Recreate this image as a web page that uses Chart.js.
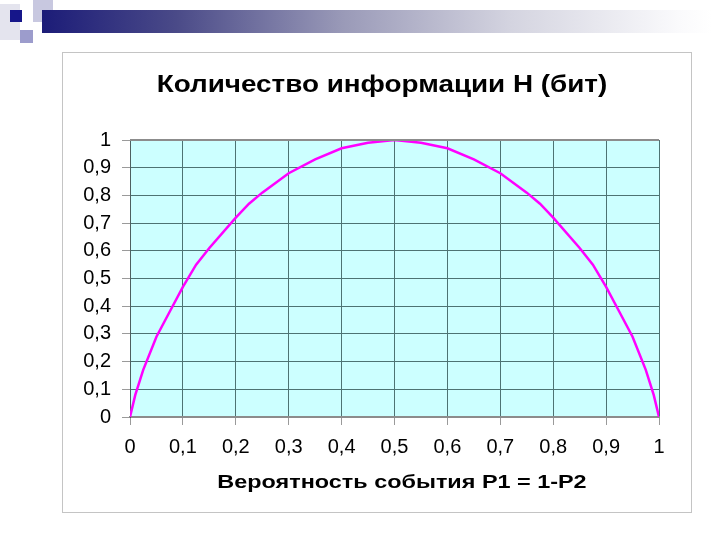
<!DOCTYPE html>
<html>
<head>
<meta charset="utf-8">
<script src="https://cdn.jsdelivr.net/npm/chart.js@4"></script>
<style>
  body { margin: 0; background: #fff; }
  .slide { position: relative; width: 720px; height: 540px; overflow: hidden; background: #fff;
    font-family: Arial, "Liberation Sans", sans-serif; }
  .bar { position: absolute; left: 42px; top: 10px; width: 670px; height: 23px;
    background: linear-gradient(to right, #1c1c78 0%, #4a4a88 20%, #9a9ab8 45%, #d4d4e0 70%, #fafafc 95%, #fff 100%); }
  .sq { position: absolute; }
  .panel { position: absolute; left: 62px; top: 52px; width: 628px; height: 459px; border: 1px solid #c4c4c4; }
  canvas { position: absolute; left: 0; top: 0; }
  .txt { position: absolute; white-space: nowrap; font-weight: bold; color: #000; transform-origin: center center; }
  #title { left: 382px; top: 84px; font-size: 23px; transform: translate(-50%, -50%) scaleX(1.21); }
  #xtitle { left: 402px; top: 482px; font-size: 18px; transform: translate(-50%, -50%) scaleX(1.3); }
</style>
</head>
<body>
<div class="slide">
  <div class="sq" style="left:0;top:4px;width:20px;height:36px;background:#e4e4ee"></div>
  <div class="sq" style="left:33px;top:0;width:20px;height:22px;background:#c8c8e0"></div>
  <div class="bar"></div>
  <div class="sq" style="left:10px;top:10px;width:12px;height:12px;background:#16168a"></div>
  <div class="sq" style="left:20px;top:30px;width:13px;height:13px;background:#9c9ccc"></div>
  <div class="panel"></div>
  <canvas id="chart" width="720" height="540"></canvas>
  <div class="txt" id="title">Количество информации Н (бит)</div>
  <div class="txt" id="xtitle">Вероятность события Р1 = 1-Р2</div>
</div>
<script>
// вероятность P1 и количество информации H (бит)
const probability = [0, 0.01, 0.025, 0.05, 0.075, 0.1, 0.125, 0.15, 0.2, 0.225, 0.25, 0.3, 0.35, 0.4, 0.45, 0.5,
  0.55, 0.6, 0.65, 0.7, 0.75, 0.775, 0.8, 0.85, 0.875, 0.9, 0.925, 0.95, 0.975, 0.99, 1];
const entropy = [0, 0.08, 0.17, 0.29, 0.38, 0.47, 0.55, 0.61, 0.72, 0.77, 0.81, 0.88, 0.93, 0.97, 0.99, 1,
  0.99, 0.97, 0.93, 0.88, 0.81, 0.77, 0.72, 0.61, 0.55, 0.47, 0.38, 0.29, 0.17, 0.08, 0];
const xTicks = [0, 0.1, 0.2, 0.3, 0.4, 0.5, 0.6, 0.7, 0.8, 0.9, 1];
const yTicks = [0, 0.1, 0.2, 0.3, 0.4, 0.5, 0.6, 0.7, 0.8, 0.9, 1];

const fontFamily = 'Arial, "Liberation Sans", sans-serif';

function formatTick(v) {
  if (v === 0 || v === 1) return String(v);
  return v.toFixed(1).replace(".", ",");
}

const plotArea = {
  id: "plotArea",
  beforeDraw(chart) {
    const { ctx, chartArea: a } = chart;
    ctx.save();
    ctx.fillStyle = "#ccffff";
    ctx.fillRect(a.left, a.top, a.right - a.left, a.bottom - a.top);
    ctx.restore();
  },
  afterDraw(chart) {
    const { ctx, chartArea: a } = chart;
    ctx.save();
    ctx.strokeStyle = "#8c8c8c";
    ctx.lineWidth = 2;
    ctx.beginPath();
    ctx.moveTo(a.left, a.top);
    ctx.lineTo(a.right, a.top);
    ctx.stroke();
    ctx.restore();
  },
};

new Chart(document.getElementById("chart").getContext("2d"), {
  type: "line",
  data: {
    datasets: [
      {
        data: probability.map((p, i) => ({ x: p, y: entropy[i] })),
        borderColor: "#ff00ff",
        borderWidth: 2.5,
        pointRadius: 0,
        tension: 0,
        fill: false,
      },
    ],
  },
  options: {
    responsive: false,
    animation: false,
    layout: { padding: { top: 140, left: 60, right: 61, bottom: 83 } },
    plugins: {
      legend: { display: false },
      tooltip: { enabled: false },
    },
    scales: {
      x: {
        type: "linear",
        min: 0,
        max: 1,
        afterFit: (s) => { s.height = 40; },
        afterBuildTicks: (s) => { s.ticks = xTicks.map((v) => ({ value: v })); },
        ticks: {
          callback: formatTick,
          color: "#000",
          padding: 10,
          maxRotation: 0,
          font: { family: fontFamily, size: 20 },
        },
        grid: { color: "#4d7373", lineWidth: 1, tickLength: 8, tickColor: "#9a9a9a" },
        border: { color: "#8c8c8c", width: 2 },
      },
      y: {
        min: 0,
        max: 1,
        afterFit: (s) => { s.width = 70; },
        afterBuildTicks: (s) => { s.ticks = yTicks.map((v) => ({ value: v })); },
        ticks: {
          callback: formatTick,
          color: "#000",
          padding: 11,
          font: { family: fontFamily, size: 20 },
        },
        grid: { color: "#4d7373", lineWidth: 1, tickLength: 8, tickColor: "#9a9a9a" },
        border: { color: "#4d6060", width: 1 },
      },
    },
  },
  plugins: [plotArea],
});
</script>
</body>
</html>
